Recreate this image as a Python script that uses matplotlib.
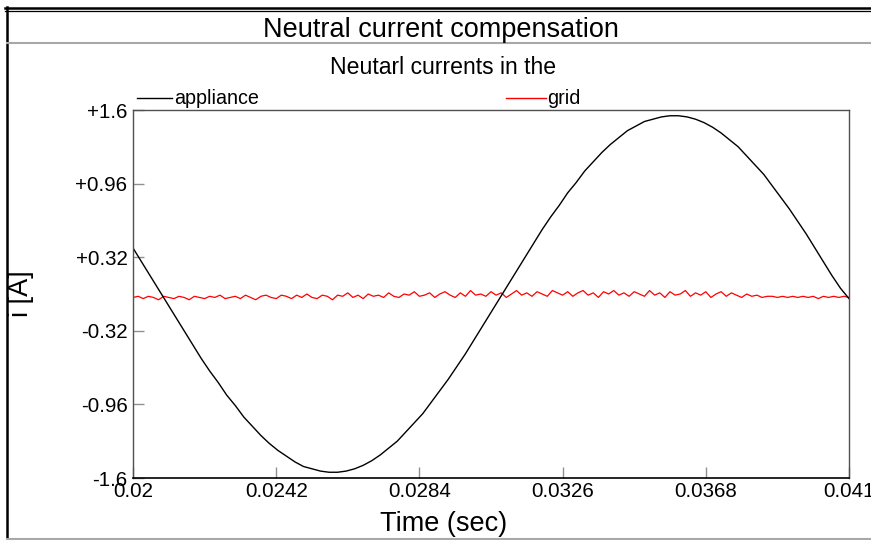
import numpy as np
import matplotlib.pyplot as plt
from matplotlib.lines import Line2D

plt.rcParams['font.family'] = ['Liberation Sans', 'DejaVu Sans']

# data
tStart, tEnd = 0.02, 0.041
applianceCurrent = [0.40, 0.28, 0.16, 0.04, -0.08, -0.20, -0.32, -0.44, -0.56, -0.67,
                    -0.77, -0.88, -0.97, -1.07, -1.15, -1.23, -1.30, -1.36, -1.41, -1.46,
                    -1.50, -1.52, -1.54, -1.55, -1.55, -1.54, -1.52, -1.49, -1.45, -1.40,
                    -1.34, -1.28, -1.20, -1.12, -1.04, -0.94, -0.84, -0.74, -0.63, -0.52,
                    -0.40, -0.28, -0.16, -0.04, 0.08, 0.20, 0.32, 0.44, 0.56, 0.67,
                    0.77, 0.88, 0.97, 1.07, 1.15, 1.23, 1.30, 1.36, 1.42, 1.46,
                    1.50, 1.52, 1.54, 1.55, 1.55, 1.54, 1.52, 1.49, 1.45, 1.40,
                    1.34, 1.28, 1.20, 1.12, 1.04, 0.94, 0.84, 0.74, 0.63, 0.52,
                    0.40, 0.28, 0.16, 0.05, -0.04]
gridCurrent = [-0.03, -0.02, -0.04, -0.02, -0.03, -0.05, -0.02, -0.03, -0.04, -0.02,
               -0.03, -0.05, -0.02, -0.03, -0.04, -0.02, -0.03, -0.01, -0.04, -0.03,
               -0.02, -0.04, -0.01, -0.03, -0.05, -0.02, -0.01, -0.03, -0.04, -0.01,
               -0.02, -0.04, -0.01, -0.03, 0.00, -0.03, -0.04, -0.01, -0.02, -0.05,
               -0.01, -0.02, 0.01, -0.03, -0.01, -0.04, 0.00, -0.02, -0.01, -0.03,
               0.01, -0.02, -0.03, 0.00, -0.01, 0.02, -0.02, -0.01, 0.01, -0.03,
               0.00, 0.02, -0.01, -0.03, 0.01, -0.02, 0.03, -0.01, 0.00, -0.02,
               0.02, -0.01, 0.01, -0.03, 0.00, 0.03, -0.01, 0.01, -0.02, 0.02,
               0.00, -0.02, 0.03, 0.01, -0.01, 0.02, -0.02, 0.01, 0.03, -0.01,
               0.01, -0.03, 0.02, 0.00, 0.03, -0.01, 0.01, -0.02, 0.02, 0.00,
               -0.02, 0.03, -0.01, 0.01, -0.03, 0.02, -0.01, 0.00, 0.03, -0.02,
               0.01, -0.01, 0.02, -0.03, 0.00, 0.02, -0.02, 0.01, -0.01, -0.03,
               0.00, -0.02, -0.01, -0.03, -0.02, -0.02, -0.03, -0.02, -0.03, -0.02,
               -0.03, -0.02, -0.03, -0.02, -0.04, -0.02, -0.03, -0.02, -0.03, -0.02,
               -0.03]
xTicks = [0.02, 0.0242, 0.0284, 0.0326, 0.0368, 0.041]
xTickLabels = ['0.02', '0.0242', '0.0284', '0.0326', '0.0368', '0.041']
yTicks = [1.6, 0.96, 0.32, -0.32, -0.96, -1.6]
yTickLabels = ['+1.6', '+0.96', '+0.32', '-0.32', '-0.96', '-1.6']

W, H = 871, 540
fig = plt.figure(figsize=(W / 100, H / 100), dpi=100)

def fx(px):
    return px / W

def fy(py):
    return 1 - py / H

ax = fig.add_axes([fx(133), fy(478), fx(849) - fx(133), fy(110) - fy(478)])

tApp = np.linspace(tStart, tEnd, len(applianceCurrent))
tGrid = np.linspace(tStart, tEnd, len(gridCurrent))
ax.plot(tGrid, gridCurrent, color='red', lw=0.9)
ax.plot(tApp, applianceCurrent, color='black', lw=1.0)

ax.set_xlim(tStart, tEnd)
ax.set_ylim(-1.6, 1.6)
ax.set_xticks(xTicks)
ax.set_xticklabels(xTickLabels)
ax.set_yticks(yTicks)
ax.set_yticklabels(yTickLabels)
ax.tick_params(direction='in', length=8, width=1, color='#909090',
               labelsize=14.8, pad=4)
ax.tick_params(axis='x', pad=3)
for s in ['top', 'right', 'left']:
    ax.spines[s].set_color('#505050')
    ax.spines[s].set_linewidth(1)
ax.spines['bottom'].set_color('black')
ax.spines['bottom'].set_linewidth(1.2)

# page frame
fig.add_artist(Line2D([fx(5), 1], [fy(7.5), fy(7.5)], color='black', lw=1.8))
fig.add_artist(Line2D([fx(5), 1], [fy(11), fy(11)], color='black', lw=0.9))
fig.add_artist(Line2D([fx(6.5), fx(6.5)], [fy(7), 0], color='black', lw=1.8))
fig.add_artist(Line2D([fx(7), 1], [fy(43), fy(43)], color='#a8a8a8', lw=1.5))
fig.add_artist(Line2D([fx(7), 1], [fy(538.5), fy(538.5)], color='#a8a8a8', lw=1.5))

fig.text(fx(441), fy(30), 'Neutral current compensation', fontsize=19.5,
         ha='center', va='center')
fig.text(fx(443), fy(68), 'Neutarl currents in the', fontsize=16.6,
         ha='center', va='center')

# legend
fig.add_artist(Line2D([fx(137), fx(172)], [fy(98), fy(98)], color='black', lw=1))
fig.text(fx(174), fy(99), 'appliance', fontsize=14.2, ha='left', va='center')
fig.add_artist(Line2D([fx(506), fx(546)], [fy(98), fy(98)], color='red', lw=1))
fig.text(fx(547), fy(99), 'grid', fontsize=14.2, ha='left', va='center')

fig.text(fx(444), fy(524), 'Time (sec)', fontsize=19.5, ha='center', va='center')
fig.text(fx(21), fy(294), 'i [A]', fontsize=19.5, ha='center', va='center',
         rotation=90)

fig.savefig('out.png', dpi=100)
